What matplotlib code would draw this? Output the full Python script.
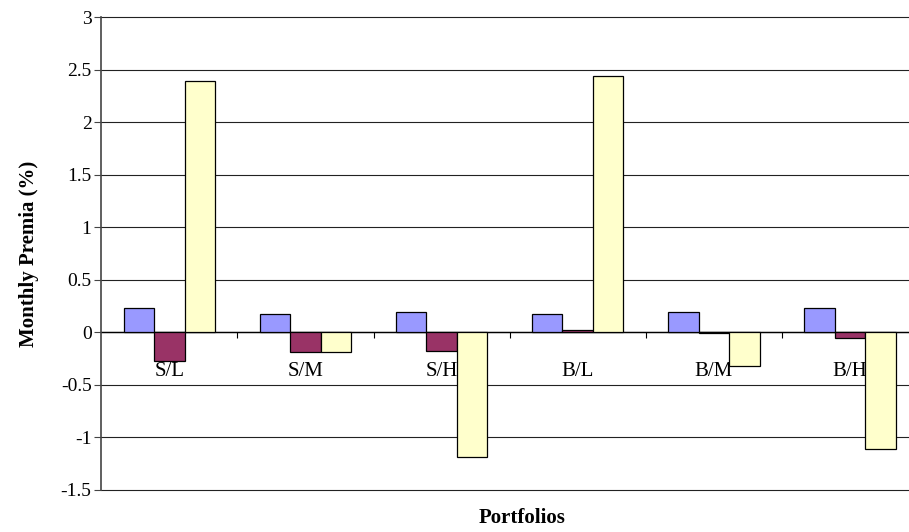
import matplotlib
matplotlib.use("Agg")
import matplotlib.pyplot as plt
import numpy as np
from matplotlib.ticker import FixedLocator, FuncFormatter

plt.rcParams['font.family'] = ['Liberation Serif', 'DejaVu Serif']
plt.rcParams['axes.unicode_minus'] = False

categories = ['S/L', 'S/M', 'S/H', 'B/L', 'B/M', 'B/H']
series_a = [0.23, 0.18, 0.19, 0.18, 0.19, 0.23]
series_b = [-0.27, -0.19, -0.18, 0.02, -0.01, -0.05]
series_c = [2.39, -0.19, -1.19, 2.44, -0.32, -1.11]
colors = ['#9999FF', '#993366', '#FFFFCC']

fs = 15

fig = plt.figure(figsize=(9.09, 5.32), dpi=100)
ax = fig.add_axes([101.3/909, 1-490/532, 816.7/909, (490-17.3)/532])

x = np.arange(len(categories))
w = 0.224
for i, (vals, c) in enumerate(zip([series_a, series_b, series_c], colors)):
    ax.bar(x + (i-1)*w, vals, width=w, color=c, edgecolor='black', linewidth=0.9, zorder=3)

ax.set_xlim(-0.5, len(categories)-0.5)
ax.set_ylim(-1.5, 3)
yt = np.arange(-1.5, 3.01, 0.5)
ax.set_yticks(yt)
ax.yaxis.set_major_formatter(FuncFormatter(lambda v, p: ('%g' % v)))
ax.grid(axis='y', color='#222222', linewidth=0.8, zorder=0)
ax.set_axisbelow(True)
for gl in ax.get_ygridlines():
    gl.set_clip_on(False)

for s in ['top', 'right']:
    ax.spines[s].set_visible(False)
ax.spines['left'].set_color('#444444')
ax.spines['left'].set_linewidth(1.2)
ax.spines['bottom'].set_position(('data', 0))
ax.spines['bottom'].set_color('black')
ax.spines['bottom'].set_linewidth(1.0)
ax.spines['bottom'].set_zorder(2)

ax.set_xticks(x)
ax.set_xticklabels(categories)
ax.xaxis.set_minor_locator(FixedLocator(np.arange(0.5, len(categories)-0.5, 1)))
ax.tick_params(axis='x', which='major', length=0, pad=21, labelsize=fs)
ax.tick_params(axis='x', which='minor', length=4, direction='out', color='black', width=0.8)
ax.tick_params(axis='y', length=5, width=0.8, color='#444444', labelsize=14, pad=2)

fig.text(29/909, 1-253.7/532, 'Monthly Premia (%)', rotation=90, ha='center', va='center',
         fontsize=fs, fontweight='bold')
fig.text(522/909, 1-518/532, 'Portfolios', ha='center', va='center', fontsize=fs, fontweight='bold')

fig.savefig('out.png', dpi=100)
